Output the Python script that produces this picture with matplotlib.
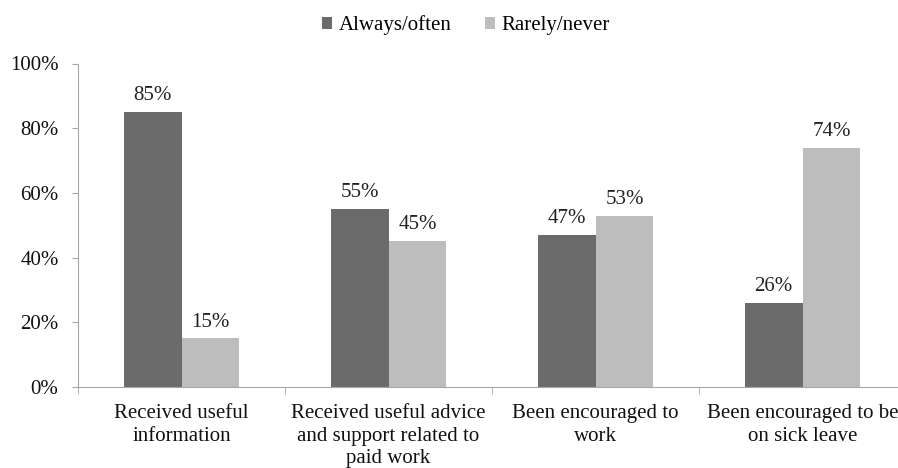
import numpy as np
import matplotlib.pyplot as plt
from matplotlib.ticker import PercentFormatter

categories = ["Received useful\ninformation",
              "Received useful advice\nand support related to\npaid work",
              "Been encouraged to\nwork",
              "Been encouraged to be\non sick leave"]
always_often = [85, 55, 47, 26]
rarely_never = [15, 45, 53, 74]
series_names = ["Always/often", "Rarely/never"]

plt.rcParams['font.family'] = ['Liberation Serif', 'DejaVu Serif']
plt.rcParams['font.size'] = 15

dark = '#6b6b6b'
light = '#bdbdbd'
axis_col = '#a6a6a6'

fig = plt.figure(figsize=(8.98, 4.68), dpi=100)
ax = fig.add_axes([78 / 898, 81 / 468, 828 / 898, 323.5 / 468])

x = np.arange(len(categories))
w = 0.28
b1 = ax.bar(x - w / 2, always_often, w, color=dark, label=series_names[0])
b2 = ax.bar(x + w / 2, rarely_never, w, color=light, label=series_names[1])

for bars in (b1, b2):
    for bar in bars:
        h = bar.get_height()
        ax.annotate(f"{h:.0f}%", (bar.get_x() + bar.get_width() / 2, h),
                    xytext=(0, 5), textcoords='offset points',
                    ha='center', va='bottom', color='#222222')

ax.set_xlim(-0.5, len(categories) - 0.5)
ax.set_ylim(0, 100)
ax.set_yticks(range(0, 101, 20))
ax.yaxis.set_major_formatter(PercentFormatter(decimals=0))

ax.set_xticks(x)
ax.set_xticklabels(categories, color='#111111', linespacing=1.25)
ax.tick_params(axis='x', length=0, pad=12.5)
ax.set_xticks(np.arange(-0.5, len(categories), 1), minor=True)
ax.tick_params(axis='x', which='minor', length=5, color=axis_col)
ax.tick_params(axis='y', length=4, pad=10, color=axis_col, labelcolor='#111111')

for s in ['top', 'right']:
    ax.spines[s].set_visible(False)
for s in ['left', 'bottom']:
    ax.spines[s].set_color(axis_col)
ax.spines['bottom'].set_clip_on(False)

fig.legend(loc='upper center', bbox_to_anchor=(466 / 898, 1.007), ncol=2,
           frameon=False, handlelength=0.5, handleheight=0.5,
           handletextpad=0.3, columnspacing=1.6)

fig.savefig('out.png', dpi=100)
